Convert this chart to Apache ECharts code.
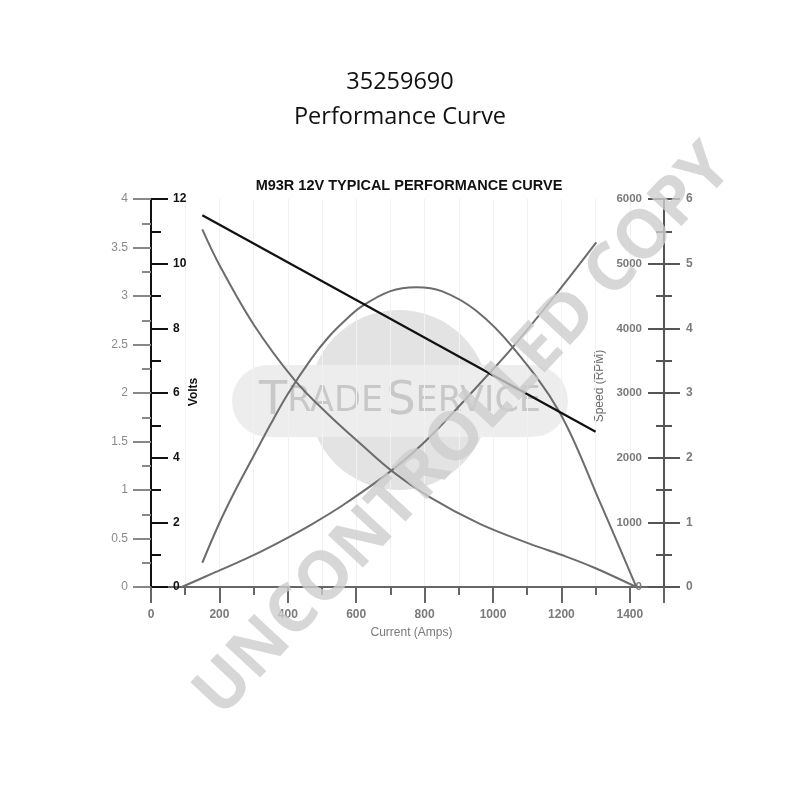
<!DOCTYPE html>
<html>
<head>
<meta charset="utf-8">
<script src="https://cdn.jsdelivr.net/npm/echarts@6/dist/echarts.min.js"></script>
<style>html,body{margin:0;padding:0;background:#fff}#c{width:800px;height:800px}</style>
</head>
<body>
<div id="c"></div>
<script>
// ---- data ----
const voltAmps = [150, 1300];
const voltValues = [11.5, 4.8];

const speedAmps = [150, 200, 300, 420, 520, 620, 703, 815, 960, 1106, 1214, 1300, 1419];
const speedRpm  = [5530, 4980, 4060, 3200, 2660, 2180, 1800, 1390, 980, 670, 470, 290, 0];

const torqueAmps = [90, 180, 275, 370, 470, 565, 703, 815, 990, 1058, 1180, 1302];
const torqueValues = [0, 0.21, 0.43, 0.68, 0.97, 1.28, 1.80, 2.32, 3.31, 3.71, 4.50, 5.33];

const powerAmps = [150, 200, 250, 300, 350, 400, 468, 520, 565, 615, 700, 776, 850, 950, 1058, 1195, 1312, 1419];
const powerValues = [0.25, 0.66, 1.02, 1.35, 1.68, 1.99, 2.35, 2.58, 2.74, 2.89, 3.05, 3.09, 3.05, 2.85, 2.47, 1.80, 0.88, 0];

const titleLine1 = '35259690';
const titleLine2 = 'Performance Curve';
const chartTitle = 'M93R 12V TYPICAL PERFORMANCE CURVE';
const xName = 'Current (Amps)';
const voltsName = 'Volts';
const speedName = 'Speed (RPM)';

function pairs(xs, ys) { return xs.map((x, i) => [x, ys[i]]); }

const GRAY = '#7a7a7a';
const CURVE = '#6c6c6c';

const chart = echarts.init(document.getElementById('c'), null, {renderer: 'canvas'});
chart.setOption({
  animation: false,
  backgroundColor: '#fff',
  title: [
    {text: titleLine1, left: 'center', top: 65, textStyle: {fontFamily: 'Open Sans', fontSize: 23.5, fontWeight: 'normal', color: '#111'}},
    {text: titleLine2, left: 'center', top: 100, textStyle: {fontFamily: 'Open Sans', fontSize: 23.5, fontWeight: 'normal', color: '#111'}},
    {text: chartTitle, left: 404, textAlign: 'center', top: 173, textStyle: {fontFamily: 'Liberation Sans', fontSize: 14.5, fontWeight: 'bold', color: '#111'}}
  ],
  grid: {left: 151, right: 136, top: 199, bottom: 213, containLabel: false},
  xAxis: [
    {
      type: 'value', min: 0, max: 1500, interval: 100,
      axisLine: {show: true, lineStyle: {color: '#666', width: 2}},
      axisTick: {show: true, length: 8, lineStyle: {color: '#666', width: 2}},
      axisLabel: {color: GRAY, fontFamily: 'Liberation Sans', fontWeight: 'bold', fontSize: 12, margin: 22,
        formatter: v => (v % 200 === 0 && v <= 1400) ? String(v) : ''},
      splitLine: {show: true, lineStyle: {color: '#f1f1f1', width: 1}},
      name: xName, nameLocation: 'middle', nameGap: 40,
      nameTextStyle: {color: GRAY, fontFamily: 'Liberation Sans', fontSize: 12, padding: [0, 0, 0, 8]}
    },
    {
      type: 'value', min: 0, max: 1500, interval: 200, position: 'bottom',
      axisLine: {show: false}, axisTick: {show: true, length: 16, lineStyle: {color: '#666', width: 2}},
      axisLabel: {show: false}, splitLine: {show: false}
    }
  ],
  yAxis: [
    { // outer left: power
      type: 'value', min: 0, max: 4, interval: 0.5, position: 'left',
      axisLine: {show: true, lineStyle: {color: '#111', width: 2}},
      axisTick: {show: true, length: 18, lineStyle: {color: '#888', width: 2}},
      minorTick: {show: true, splitNumber: 2, length: 9, lineStyle: {color: '#888', width: 2}},
      axisLabel: {color: '#8a8a8a', fontFamily: 'Liberation Sans', fontSize: 12, margin: 23},
      splitLine: {show: false}
    },
    { // inner left: volts
      type: 'value', min: 0, max: 12, interval: 2, position: 'left',
      axisLine: {show: true, lineStyle: {color: '#111', width: 2}},
      axisTick: {show: true, inside: true, length: 17, lineStyle: {color: '#111', width: 2}},
      minorTick: {show: true, splitNumber: 2, length: 10, lineStyle: {color: '#111', width: 2}},
      axisLabel: {inside: true, color: '#111', fontFamily: 'Liberation Sans', fontWeight: 'bold', fontSize: 12, margin: 22},
      splitLine: {show: false}
    },
    { // inner right: speed
      type: 'value', min: 0, max: 6000, interval: 1000, position: 'right',
      axisLine: {show: true, lineStyle: {color: '#555', width: 2}},
      axisTick: {show: true, inside: true, length: 16, lineStyle: {color: '#555', width: 2}},
      minorTick: {show: true, splitNumber: 2, length: 8, lineStyle: {color: '#555', width: 2}},
      axisLabel: {inside: true, color: GRAY, fontFamily: 'Liberation Sans', fontWeight: 'bold', fontSize: 11.5, margin: 22,
        formatter: v => String(v)},
      splitLine: {show: false}
    },
    { // outer right: torque
      type: 'value', min: 0, max: 6, interval: 1, position: 'right',
      axisLine: {show: true, lineStyle: {color: '#555', width: 2}},
      axisTick: {show: true, length: 16, lineStyle: {color: '#555', width: 2}},
      minorTick: {show: true, splitNumber: 2, length: 8, lineStyle: {color: '#555', width: 2}},
      axisLabel: {color: GRAY, fontFamily: 'Liberation Sans', fontWeight: 'bold', fontSize: 12, margin: 22},
      splitLine: {show: false}
    }
  ],
  series: [
    {name: 'Volts', type: 'line', yAxisIndex: 1, data: pairs(voltAmps, voltValues), showSymbol: false,
      lineStyle: {color: '#111', width: 2.2}, z: 5},
    {name: 'Speed', type: 'line', yAxisIndex: 2, data: pairs(speedAmps, speedRpm), showSymbol: false, smooth: 0.35,
      lineStyle: {color: CURVE, width: 2}, z: 4},
    {name: 'Torque', type: 'line', yAxisIndex: 3, data: pairs(torqueAmps, torqueValues), showSymbol: false, smooth: 0.35,
      lineStyle: {color: CURVE, width: 2}, z: 4},
    {name: 'Power', type: 'line', yAxisIndex: 0, data: pairs(powerAmps, powerValues), showSymbol: false, smooth: 0.35,
      lineStyle: {color: CURVE, width: 2}, z: 4}
  ],
  graphic: [
    {type: 'circle', z: -10, silent: true, shape: {cx: 399, cy: 400, r: 90}, style: {fill: '#e3e3e3'}},
    {type: 'rect', z: -9, silent: true, shape: {x: 232, y: 365, width: 336, height: 72, r: 36}, style: {fill: '#ededed'}},
    {type: 'text', z: -8, silent: true, x: 400, y: 402,
      style: {text: '{b|T}{s|RADE} {b|S}{s|ERVICE}', align: 'center', verticalAlign: 'middle',
        rich: {b: {fontFamily: 'DejaVu Sans', fontSize: 46, fill: '#c8c8c8', color: '#c8c8c8'},
               s: {fontFamily: 'DejaVu Sans', fontSize: 35, fill: '#c8c8c8', color: '#c8c8c8'}}}},
    {type: 'text', silent: true, x: 194, y: 392, rotation: Math.PI / 2,
      style: {text: voltsName, align: 'center', verticalAlign: 'middle', font: 'bold 12px "Liberation Sans"', fill: '#111'}},
    {type: 'text', silent: true, x: 600, y: 386, rotation: Math.PI / 2,
      style: {text: speedName, align: 'center', verticalAlign: 'middle', font: '12px "Liberation Sans"', fill: '#6a6a6a'}},
    {type: 'text', z: 100, silent: true, x: 464, y: 431, rotation: 0.82,
      style: {text: 'UNCONTROLLED COPY', align: 'center', verticalAlign: 'middle',
        font: 'bold 67px "Open Sans"', fill: 'rgba(205,205,205,0.8)'}}
  ]
});
</script>
</body>
</html>
